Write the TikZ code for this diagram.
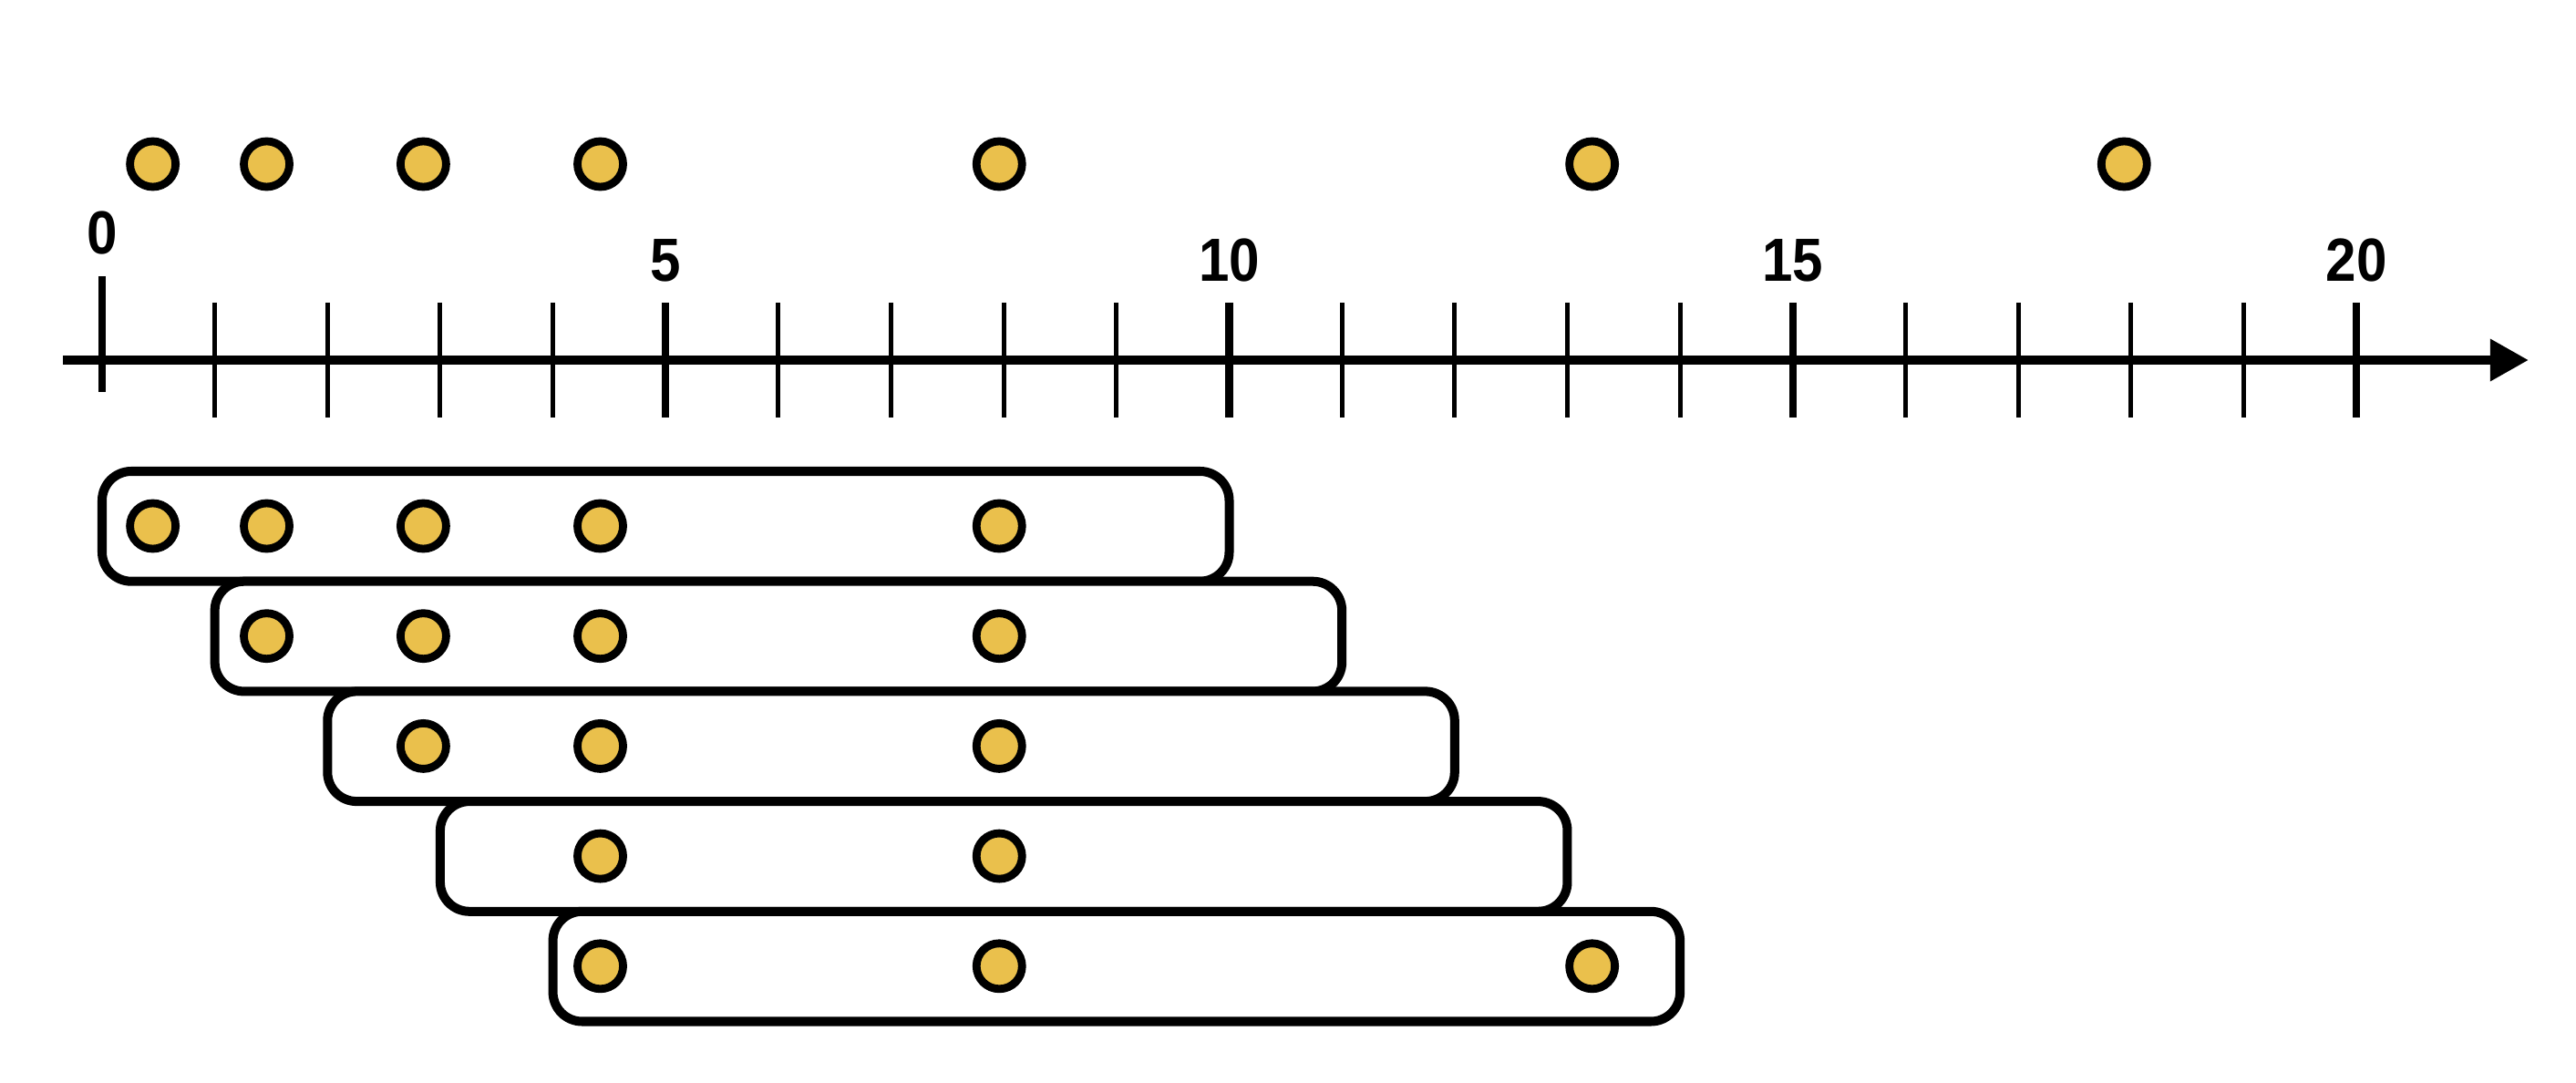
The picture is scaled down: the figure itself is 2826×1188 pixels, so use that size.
\documentclass[tikz,border=0pt]{standalone}
\usepackage{fontspec}
\setmainfont{Liberation Sans}
\usetikzlibrary{arrows.meta}
\definecolor{dotfill}{RGB}{234,192,76}
\begin{document}
\begin{tikzpicture}[x=0.01cm,y=-0.01cm,
  dot/.style={circle,draw=black,line width=2.5pt,fill=dotfill,minimum size=0.5cm,inner sep=0pt},
  axisline/.style={line width=2.85pt,-{Triangle[length=12pt,width=12.5pt]}},
  majortick/.style={line width=2.3pt},
  minortick/.style={line width=1.4pt},
  ticklabel/.style={font=\bfseries\fontsize{19}{21}\selectfont,xscale=0.9,inner sep=0pt},
  winbox/.style={draw=black,line width=2.85pt,rounded corners=0.32cm,fill=white}]
\useasboundingbox (0,0) rectangle (2826,1188);
\def\U{123.65}
\def\X{112}
% axis
\coordinate (axstart) at (69,395);
\coordinate (axend) at (2774,395);
\draw[axisline] (axstart) -- (axend);
% ticks
\draw[majortick] (\X,303) -- (\X,430);
\foreach \i in {5,10,15,20} {
  \draw[majortick] ({\X+\U*\i},332) -- ({\X+\U*\i},458);
}
\foreach \i in {1,2,3,4,6,7,8,9,11,12,13,14,16,17,18,19} {
  \draw[minortick] ({\X+\U*\i},332) -- ({\X+\U*\i},458);
}
% labels
\node[ticklabel] (l0) at (\X,255) {0};
\foreach \i in {5,10,15,20} {
  \node[ticklabel] (l\i) at ({\X+\U*\i},286) {\i};
}
% top dots
\foreach \u [count=\n] in {0.45,1.46,2.85,4.42,7.96,13.22,17.94} {
  \node[dot] (t\n) at ({\X+\U*\u},180) {};
}
% boxes
\foreach \k in {0,...,4} {
  \draw[winbox] ({\X+\U*\k},{517+120.7*\k}) rectangle ({\X+\U*(\k+10)},{517+120.7*(\k+1)});
}
% dots in boxes
\foreach \u [count=\n] in {0.45,1.46,2.85,4.42,7.96} { \node[dot] (a\n) at ({\X+\U*\u},577) {}; }
\foreach \u [count=\n] in {1.46,2.85,4.42,7.96} { \node[dot] (b\n) at ({\X+\U*\u},697.7) {}; }
\foreach \u [count=\n] in {2.85,4.42,7.96} { \node[dot] (c\n) at ({\X+\U*\u},818.4) {}; }
\foreach \u [count=\n] in {4.42,7.96} { \node[dot] (d\n) at ({\X+\U*\u},939.1) {}; }
\foreach \u [count=\n] in {4.42,7.96,13.22} { \node[dot] (e\n) at ({\X+\U*\u},1059.8) {}; }
\end{tikzpicture}
\end{document}
